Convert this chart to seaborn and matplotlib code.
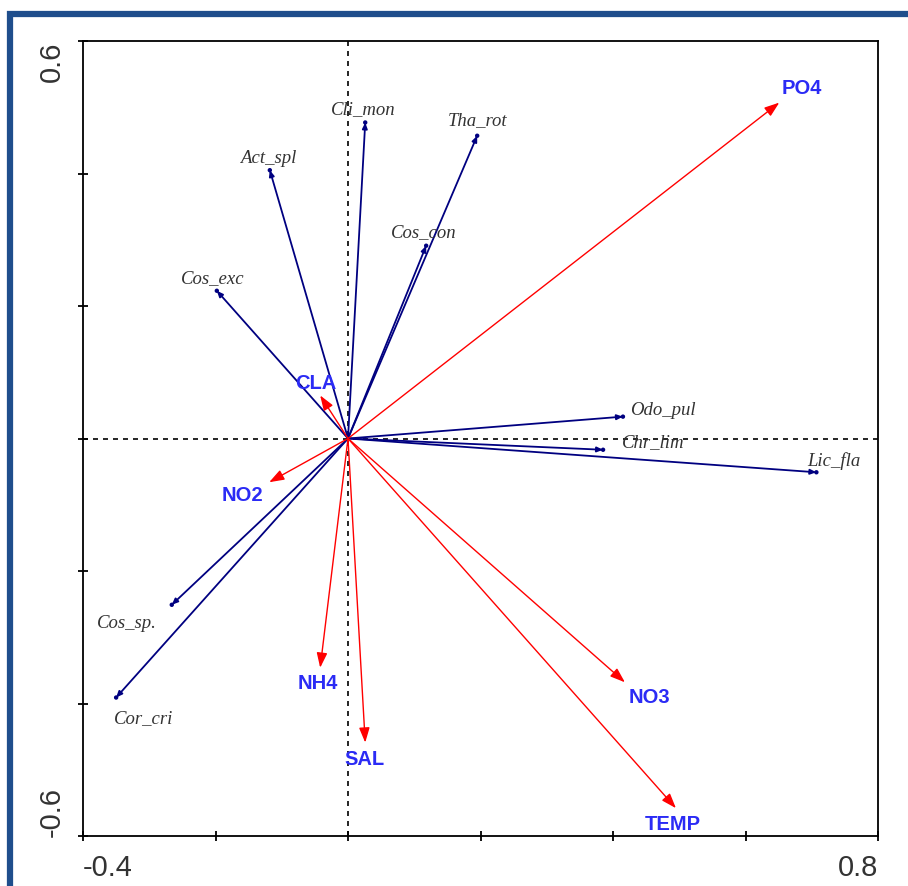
import matplotlib
matplotlib.use("Agg")
import matplotlib.pyplot as plt
import seaborn as sns
import pandas as pd
from matplotlib.patches import Rectangle

# ---- data ----
species = ["Cli_mon", "Tha_rot", "Act_spl", "Cos_con", "Cos_exc",
           "Odo_pul", "Chr_lim", "Lic_fla", "Cos_sp.", "Cor_cri"]
sp_x = [0.026, 0.195, -0.118, 0.118, -0.198, 0.415, 0.385, 0.707, -0.266, -0.350]
sp_y = [0.477, 0.457, 0.405, 0.291, 0.223, 0.033, -0.017, -0.051, -0.251, -0.391]

env = ["PO4", "CLA", "NO2", "NH4", "SAL", "NO3", "TEMP"]
env_x = [0.651, -0.042, -0.119, -0.042, 0.026, 0.418, 0.495]
env_y = [0.507, 0.065, -0.066, -0.346, -0.459, -0.368, -0.558]

xticks = [-0.4, -0.2, 0.0, 0.2, 0.4, 0.6, 0.8]
yticks = [-0.6, -0.4, -0.2, 0.0, 0.2, 0.4, 0.6]

# label offsets (pixels, x right / y up)
sp_off = {"Cli_mon": (-2, 14), "Tha_rot": (0, 16), "Act_spl": (-2, 13),
          "Cos_con": (-2, 14), "Cos_exc": (-4, 13), "Odo_pul": (40, 7),
          "Chr_lim": (50, 8), "Lic_fla": (17, 12), "Cos_sp.": (-45, -18),
          "Cor_cri": (28, -20)}
env_off = {"PO4": (23, 15), "CLA": (-4, 13), "NO2": (-27, -12), "NH4": (-2, -15),
           "SAL": (-1, -16), "NO3": (25, -14), "TEMP": (-3, -15)}

sns.set_style("white")
plt.rcParams["font.family"] = ["Liberation Sans", "DejaVu Sans"]

fig = plt.figure(figsize=(9.08, 8.87), dpi=100)
ax = fig.add_axes([83 / 908, 1 - 837 / 887, 795 / 908, 795 / 887])

# blue frame around figure
fig.patches.append(Rectangle((10 / 908, -0.1), 1.2, (887 - 15) / 887 + 0.1,
                             transform=fig.transFigure, fill=False,
                             edgecolor="#1f4e8c", linewidth=4.5, zorder=0))

ax.set_xlim(-0.4, 0.8)
ax.set_ylim(-0.6, 0.6)

ax.axhline(0, color="black", linestyle=(0, (3, 3)), linewidth=1.2, zorder=1)
ax.axvline(0, color="black", linestyle=(0, (3, 3)), linewidth=1.2, zorder=1)

px = 72 / 100

df_sp = pd.DataFrame({"name": species, "x": sp_x, "y": sp_y})
df_env = pd.DataFrame({"name": env, "x": env_x, "y": env_y})

for _, r in df_sp.iterrows():
    ax.annotate("", xy=(r.x, r.y), xytext=(0, 0),
                arrowprops=dict(arrowstyle="-|>,head_length=0.35,head_width=0.15",
                                color="#000080", lw=1.3, shrinkA=0, shrinkB=0),
                zorder=3)
    dx, dy = sp_off[r["name"]]
    ax.annotate(r["name"], xy=(r.x, r.y), xytext=(dx * px, dy * px),
                textcoords="offset points", ha="center", va="center",
                fontsize=13.5, style="italic", family="Liberation Serif",
                color="#333333", zorder=5)

sns.scatterplot(data=df_sp, x="x", y="y", ax=ax, color="#000080", s=10,
                edgecolor="none", zorder=4, legend=False)

for _, r in df_env.iterrows():
    ax.annotate("", xy=(r.x, r.y), xytext=(0, 0),
                arrowprops=dict(arrowstyle="-|>,head_length=0.9,head_width=0.32",
                                color="#ff0000", lw=1.0, shrinkA=0, shrinkB=0),
                zorder=3)
    dx, dy = env_off[r["name"]]
    ax.annotate(r["name"], xy=(r.x, r.y), xytext=(dx * px, dy * px),
                textcoords="offset points", ha="center", va="center",
                fontsize=14.5, fontweight="bold", color="#2b2bf5", zorder=5)

ax.set_xlabel("")
ax.set_ylabel("")

ax.set_xticks(xticks)
ax.set_yticks(yticks)
ax.set_xticklabels(["-0.4"] + [""] * 5 + ["0.8"])
ax.set_yticklabels(["-0.6"] + [""] * 5 + ["0.6"], rotation=90)
ax.tick_params(direction="inout", length=7, width=1.3, color="black",
               labelsize=21, labelcolor="#333333", pad=9, left=True, bottom=True)
xl = ax.get_xticklabels()
xl[0].set_ha("left")
xl[-1].set_ha("right")
yl = ax.get_yticklabels()
yl[0].set_va("bottom")
yl[-1].set_va("top")

for s in ax.spines.values():
    s.set_visible(True)
    s.set_color("black")
    s.set_linewidth(1.3)

fig.savefig("out.png", dpi=100, facecolor="white")
